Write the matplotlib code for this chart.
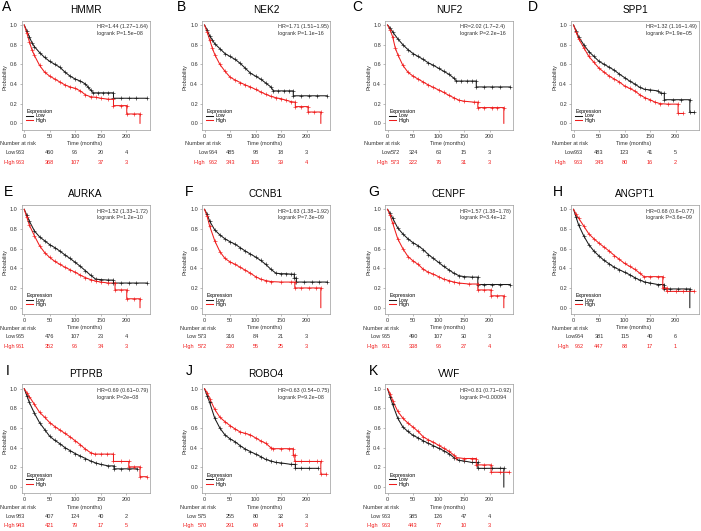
import matplotlib.pyplot as plt
import matplotlib.transforms as mtransforms

plt.rcParams['font.family'] = ['Liberation Sans', 'DejaVu Sans']

# ---- data ----
letters = ['A', 'B', 'C', 'D', 'E', 'F', 'G', 'H', 'I', 'J', 'K']
genes = ['HMMR', 'NEK2', 'NUF2', 'SPP1', 'AURKA', 'CCNB1', 'CENPF', 'ANGPT1', 'PTPRB', 'ROBO4', 'VWF']
hr_labels = ['HR=1.44 (1.27\u22121.64)', 'HR=1.71 (1.51\u22121.95)', 'HR=2.02 (1.7\u22122.4)',
             'HR=1.32 (1.16\u22121.49)', 'HR=1.52 (1.33\u22121.72)', 'HR=1.63 (1.38\u22121.92)',
             'HR=1.57 (1.38\u22121.78)', 'HR=0.68 (0.6\u22120.77)', 'HR=0.69 (0.61\u22120.79)',
             'HR=0.63 (0.54\u22120.75)', 'HR=0.81 (0.71\u22120.92)']
p_labels = ['1.5e\u221208', '1.1e\u221216', '2.2e\u221216', '1.9e\u221205', '1.2e\u221210', '7.3e\u221209',
            '3.4e\u221212', '3.6e\u221209', '2e\u221208', '9.2e\u221208', '0.00094']
risk_times = [0, 50, 100, 150, 200]
risk_low = [[963, 460, 96, 20, 4], [964, 485, 98, 18, 3], [572, 324, 63, 15, 3], [963, 483, 123, 41, 5],
            [965, 476, 107, 23, 4], [573, 316, 84, 21, 3], [965, 490, 107, 30, 3], [964, 381, 115, 40, 6],
            [983, 407, 124, 40, 2], [575, 255, 80, 32, 3], [963, 385, 126, 47, 4]]
risk_high = [[963, 368, 107, 37, 3], [962, 343, 105, 39, 4], [573, 222, 76, 31, 3], [963, 345, 80, 16, 2],
             [961, 352, 96, 34, 3], [572, 230, 55, 25, 3], [961, 338, 96, 27, 4], [962, 447, 88, 17, 1],
             [943, 421, 79, 17, 5], [570, 291, 69, 14, 3], [963, 443, 77, 10, 3]]

hmmr_low_t = [0, 5, 10, 15, 20, 30, 40, 50, 60, 70, 80, 90, 100, 110, 120, 125, 130, 135, 145, 155, 165, 175, 175, 190, 205, 220, 240]
hmmr_low_s = [1, .94, .88, .82, .78, .72, .67, .63, .60, .57, .52, .48, .45, .43, .40, .37, .34, .31, .31, .31, .31, .31, .255, .255, .255, .255, .255]
hmmr_high_t = [0, 5, 10, 15, 20, 30, 40, 50, 60, 70, 80, 90, 100, 110, 120, 130, 140, 150, 165, 175, 175, 190, 201, 201, 215, 227, 227]
hmmr_high_s = [1, .92, .83, .75, .69, .59, .52, .48, .45, .42, .39, .37, .355, .33, .29, .27, .265, .255, .245, .245, .18, .18, .18, .095, .095, .095, 0]

nek2_low_t = [0, 5, 10, 15, 20, 30, 40, 50, 60, 70, 80, 90, 100, 110, 120, 130, 135, 145, 155, 165, 174, 174, 190, 205, 220, 240]
nek2_low_s = [1, .95, .89, .85, .81, .76, .71, .68, .65, .61, .56, .51, .48, .45, .41, .37, .33, .33, .33, .33, .33, .28, .28, .28, .28, .28]
nek2_high_t = [0, 5, 10, 15, 20, 30, 40, 50, 60, 70, 80, 90, 100, 110, 120, 130, 140, 150, 160, 170, 178, 178, 190, 203, 203, 215, 228, 228]
nek2_high_s = [1, .93, .85, .77, .70, .60, .53, .47, .44, .415, .39, .37, .345, .32, .295, .275, .26, .25, .235, .22, .215, .17, .17, .17, .115, .115, .115, 0]

nuf2_low_t = [0, 5, 10, 20, 30, 40, 50, 60, 70, 80, 90, 100, 110, 120, 130, 135, 145, 155, 165, 174, 174, 190, 205, 220, 240]
nuf2_low_s = [1, .97, .93, .86, .80, .75, .71, .68, .65, .615, .59, .56, .53, .50, .46, .43, .43, .43, .43, .43, .37, .37, .37, .37, .37]
nuf2_high_t = [0, 5, 10, 15, 20, 30, 40, 50, 60, 70, 80, 90, 100, 110, 120, 130, 140, 150, 170, 177, 177, 190, 205, 215, 228, 228]
nuf2_high_s = [1, .95, .88, .77, .70, .59, .52, .48, .45, .42, .39, .365, .34, .315, .285, .26, .235, .225, .215, .215, .16, .16, .16, .16, .16, 0]

spp1_low_t = [0, 5, 10, 20, 30, 40, 50, 60, 70, 80, 90, 100, 110, 120, 130, 140, 150, 165, 172, 178, 178, 195, 210, 228, 228, 237]
spp1_low_s = [1, .94, .88, .80, .73, .68, .63, .60, .57, .54, .50, .465, .43, .40, .365, .345, .34, .33, .305, .305, .24, .24, .24, .24, .11, .11]
spp1_high_t = [0, 5, 10, 20, 30, 40, 50, 60, 70, 80, 90, 100, 110, 120, 130, 140, 150, 160, 170, 185, 205, 205, 214]
spp1_high_s = [1, .93, .86, .77, .68, .62, .56, .52, .48, .45, .42, .38, .355, .33, .29, .26, .24, .215, .20, .195, .195, .10, .10]

aurka_low_t = [0, 5, 10, 20, 30, 40, 50, 60, 70, 80, 90, 100, 110, 120, 130, 140, 150, 165, 175, 175, 190, 205, 220, 240]
aurka_low_s = [1, .94, .88, .78, .72, .68, .64, .61, .575, .535, .50, .46, .42, .375, .33, .29, .285, .28, .28, .25, .25, .25, .25, .25]
aurka_high_t = [0, 5, 10, 20, 30, 40, 50, 60, 70, 80, 90, 100, 110, 120, 130, 140, 150, 165, 178, 178, 190, 201, 201, 215, 227, 227]
aurka_high_s = [1, .92, .84, .73, .63, .56, .51, .47, .44, .41, .385, .36, .33, .305, .285, .27, .26, .25, .25, .18, .18, .18, .09, .09, .09, 0]

ccnb1_low_t = [0, 5, 10, 20, 30, 40, 50, 60, 70, 80, 90, 100, 110, 120, 130, 140, 150, 160, 170, 176, 176, 180, 180, 195, 210, 225, 240]
ccnb1_low_s = [1, .95, .88, .79, .74, .70, .67, .645, .61, .575, .545, .515, .48, .44, .39, .35, .345, .345, .34, .34, .30, .30, .26, .26, .26, .26, .26]
ccnb1_high_t = [0, 5, 10, 20, 30, 40, 50, 60, 70, 80, 90, 100, 110, 120, 130, 150, 170, 177, 177, 190, 205, 218, 228, 228]
ccnb1_high_s = [1, .93, .83, .68, .57, .50, .465, .44, .41, .38, .35, .315, .29, .275, .265, .26, .26, .26, .20, .20, .20, .20, .20, 0]

cenpf_low_t = [0, 5, 10, 20, 30, 40, 50, 60, 70, 80, 90, 100, 110, 120, 130, 140, 150, 165, 177, 177, 190, 205, 220, 240]
cenpf_low_s = [1, .96, .91, .81, .75, .70, .66, .63, .59, .54, .50, .46, .42, .385, .35, .325, .315, .31, .31, .235, .235, .235, .235, .235]
cenpf_high_t = [0, 5, 10, 20, 30, 40, 50, 60, 70, 80, 90, 100, 110, 120, 130, 140, 160, 177, 177, 190, 203, 203, 215, 228, 228]
cenpf_high_s = [1, .94, .86, .70, .60, .52, .475, .44, .39, .36, .34, .315, .29, .275, .26, .25, .24, .24, .18, .18, .18, .12, .12, .12, 0]

angpt1_low_t = [0, 5, 10, 20, 30, 40, 50, 60, 70, 80, 90, 100, 110, 120, 130, 140, 150, 165, 178, 178, 190, 205, 220, 228, 228]
angpt1_low_s = [1, .92, .84, .73, .64, .575, .525, .48, .445, .41, .385, .36, .335, .305, .28, .26, .25, .235, .235, .19, .19, .19, .19, .19, 0]
angpt1_high_t = [0, 5, 10, 20, 30, 40, 50, 60, 70, 80, 90, 100, 110, 120, 130, 138, 150, 165, 175, 175, 183, 183, 200, 215, 237]
angpt1_high_s = [1, .95, .91, .83, .75, .70, .655, .615, .575, .53, .49, .45, .42, .39, .35, .315, .315, .315, .315, .20, .20, .165, .165, .165, .165]

ptprb_low_t = [0, 5, 10, 20, 30, 40, 50, 60, 70, 80, 90, 100, 110, 120, 130, 140, 150, 165, 176, 176, 190, 205, 221]
ptprb_low_s = [1, .93, .86, .75, .655, .585, .515, .475, .44, .40, .37, .34, .315, .29, .265, .245, .23, .215, .215, .185, .185, .185, .185]
ptprb_high_t = [0, 5, 10, 20, 30, 40, 50, 60, 70, 80, 90, 100, 110, 120, 130, 138, 150, 162, 175, 175, 190, 205, 205, 215, 227, 227, 240]
ptprb_high_s = [1, .96, .92, .84, .76, .71, .655, .615, .58, .545, .51, .47, .43, .385, .35, .335, .335, .335, .335, .26, .26, .26, .205, .205, .205, .105, .105]

robo4_low_t = [0, 5, 10, 20, 30, 40, 50, 60, 70, 80, 90, 100, 110, 120, 130, 140, 150, 170, 178, 178, 190, 205, 223]
robo4_low_s = [1, .93, .86, .70, .60, .53, .49, .46, .42, .385, .36, .335, .31, .28, .265, .25, .245, .23, .23, .19, .19, .19, .19]
robo4_high_t = [0, 5, 10, 20, 30, 40, 50, 60, 70, 80, 90, 100, 110, 120, 130, 135, 150, 165, 174, 174, 177, 177, 190, 205, 220, 228, 228, 239]
robo4_high_s = [1, .96, .90, .79, .71, .665, .625, .59, .56, .545, .53, .50, .47, .445, .40, .39, .39, .39, .39, .325, .325, .26, .26, .26, .26, .26, .13, .13]

vwf_low_t = [0, 5, 10, 20, 30, 40, 50, 60, 70, 80, 90, 100, 110, 120, 130, 140, 150, 165, 177, 177, 190, 205, 220, 228, 228]
vwf_low_s = [1, .92, .84, .70, .61, .565, .525, .50, .47, .445, .42, .395, .37, .34, .30, .27, .265, .25, .25, .19, .19, .19, .19, .19, 0]
vwf_high_t = [0, 5, 10, 20, 30, 40, 50, 60, 70, 80, 90, 100, 110, 120, 130, 135, 150, 165, 174, 174, 190, 203, 203, 220, 239]
vwf_high_s = [1, .95, .88, .77, .70, .65, .61, .565, .51, .48, .455, .425, .395, .365, .325, .30, .29, .29, .29, .225, .225, .225, .15, .15, .15]

low_t = [hmmr_low_t, nek2_low_t, nuf2_low_t, spp1_low_t, aurka_low_t, ccnb1_low_t,
         cenpf_low_t, angpt1_low_t, ptprb_low_t, robo4_low_t, vwf_low_t]
low_s = [hmmr_low_s, nek2_low_s, nuf2_low_s, spp1_low_s, aurka_low_s, ccnb1_low_s,
         cenpf_low_s, angpt1_low_s, ptprb_low_s, robo4_low_s, vwf_low_s]
high_t = [hmmr_high_t, nek2_high_t, nuf2_high_t, spp1_high_t, aurka_high_t, ccnb1_high_t,
          cenpf_high_t, angpt1_high_t, ptprb_high_t, robo4_high_t, vwf_high_t]
high_s = [hmmr_high_s, nek2_high_s, nuf2_high_s, spp1_high_s, aurka_high_s, ccnb1_high_s,
          cenpf_high_s, angpt1_high_s, ptprb_high_s, robo4_high_s, vwf_high_s]

# ---- layout (pixels) ----
W, H = 701, 531
AW, AH = 128, 109
col_left = [21.7, 202, 385, 571]
row_top = [20.7, 205, 384.4]
letter_x = [1.5, 176.5, 352.5, 527.5, 3.5, 184.5, 368.5, 552.5, 5.5, 185.5, 368.5]
# risk table x offsets relative to axes left edge
nar_x = [-21.7, -17, -21, -19.3, -21.7, -22, -21.7, -19.3, -21.7, -22, -21.7]
low_lab_x = [-15.7, -3.7, -3.3, -6.7, -15.7, -15.3, -14.3, -5.5, -15.7, -15.3, -14.3]
high_lab_x = [-18.4, -8.7, -8.3, -16.7, -17.7, -19.7, -18.3, -14, -18.4, -19.7, -18.3]
num0_x = [-1, 11, 10.7, 7.5, -1, 0.3, 1.7, 8, -1, 0.3, 1.7]

RED = '#f01c1c'
BLACK = '#1a1a1a'
FS = 4.0

fig = plt.figure(figsize=(W / 100, H / 100), dpi=100)

for i in range(len(genes)):
    r, c = divmod(i, 4)
    ax = fig.add_axes([col_left[c] / W, (H - row_top[r] - AH) / H, AW / W, AH / H])

    l_low, = ax.plot(low_t[i], low_s[i], color=BLACK, lw=0.75, label='Low')
    l_high, = ax.plot(high_t[i], high_s[i], color=RED, lw=0.75, label='High')
    # censoring marks
    for tt, ss, col in [(low_t[i], low_s[i], BLACK), (high_t[i], high_s[i], RED)]:
        mt = [t for t, s in zip(tt, ss) if t > 0 and s > 0]
        ms = [s for t, s in zip(tt, ss) if t > 0 and s > 0]
        ax.plot(mt, ms, ls='none', marker='+', ms=2.3, mew=0.45, color=col)

    ax.set_xlim(-5, 246)
    ax.set_ylim(-0.065, 1.044)
    ax.set_xticks([0, 50, 100, 150, 200])
    ax.set_yticks([0, 0.2, 0.4, 0.6, 0.8, 1.0])
    ax.set_yticklabels(['0.0', '0.2', '0.4', '0.6', '0.8', '1.0'])
    ax.tick_params(labelsize=FS, length=1.6, width=0.4, color='#888888',
                   labelcolor='#333333', pad=1.2)
    for sp in ax.spines.values():
        sp.set_color('#9a9a9a')
        sp.set_linewidth(0.5)

    ax.text(-16.5 / AW, 0.48, 'Probability', rotation=90, ha='center', va='center',
            transform=ax.transAxes, fontsize=FS, color='#333333')
    ax.text(0.5, 1 + 10.7 / AH, genes[i], ha='center', va='center',
            transform=ax.transAxes, fontsize=7.2)
    fig.text(letter_x[i] / W, 1 - (row_top[r] - 13.5) / H, letters[i],
             ha='left', va='center', fontsize=10)

    ax.text(75.5 / AW, 1 - 6 / AH, hr_labels[i], transform=ax.transAxes,
            ha='left', va='center', fontsize=3.9, color='#333333')
    ax.text(75.5 / AW, 1 - 12.6 / AH, 'logrank P=' + p_labels[i], transform=ax.transAxes,
            ha='left', va='center', fontsize=3.9, color='#333333')

    ax.legend(handles=[l_low, l_high], title='Expression', loc='upper left',
              bbox_to_anchor=(0.035, 0.19), frameon=False, fontsize=3.8,
              title_fontsize=3.8, alignment='left', handlelength=1.3,
              handletextpad=0.5, labelspacing=-0.1, borderpad=0, borderaxespad=0)

    # number at risk table
    tr = mtransforms.blended_transform_factory(ax.transData, ax.transAxes)
    y_nar, y_low, y_high = -14 / AH, -22.7 / AH, -32.5 / AH
    ax.text(nar_x[i] / AW, y_nar, 'Number at risk', transform=ax.transAxes,
            ha='left', va='center', fontsize=FS, color='#333333')
    ax.text(118, y_nar, 'Time (months)', transform=tr, ha='center', va='center',
            fontsize=FS, color='#333333')
    ax.text(low_lab_x[i] / AW, y_low, 'Low', transform=ax.transAxes,
            ha='left', va='center', fontsize=FS, color='#333333')
    ax.text(high_lab_x[i] / AW, y_high, 'High', transform=ax.transAxes,
            ha='left', va='center', fontsize=FS, color=RED)
    for j, t in enumerate(risk_times):
        if j == 0:
            x, trans = num0_x[i] / AW, ax.transAxes
        else:
            x, trans = t, tr
        ax.text(x, y_low, str(risk_low[i][j]), transform=trans, ha='center',
                va='center', fontsize=FS, color='#333333')
        ax.text(x, y_high, str(risk_high[i][j]), transform=trans, ha='center',
                va='center', fontsize=FS, color=RED)

fig.savefig('out.png', dpi=100)
